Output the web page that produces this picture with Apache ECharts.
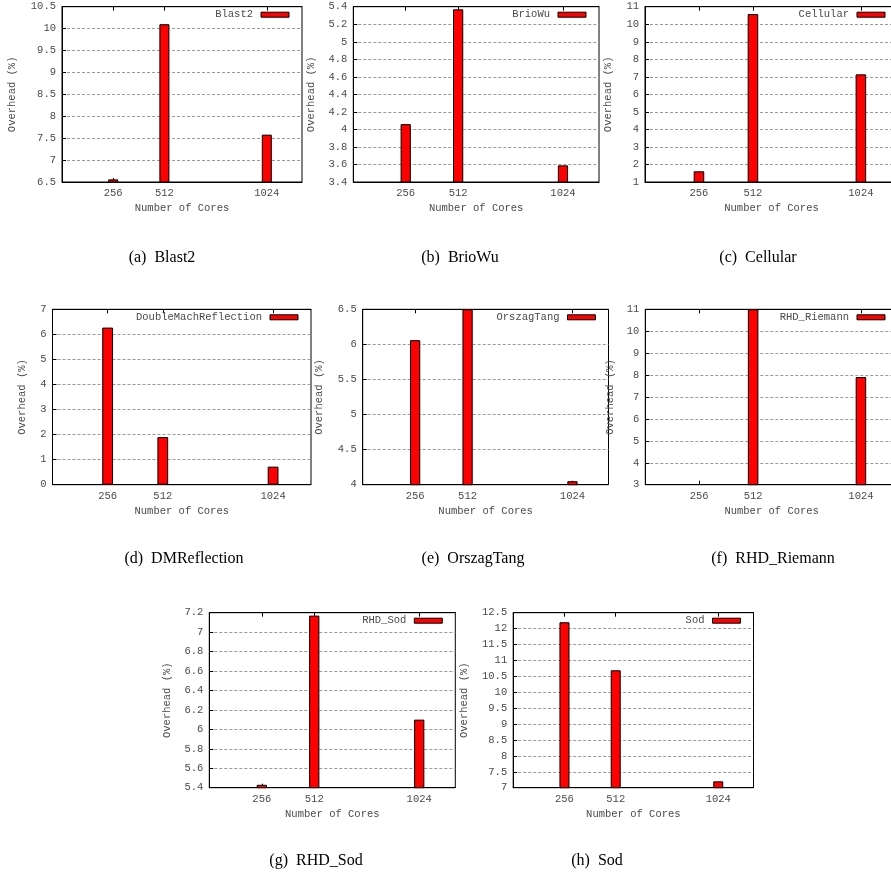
<!DOCTYPE html>
<html><head><meta charset="utf-8">
<script src="https://cdn.jsdelivr.net/npm/echarts@6/dist/echarts.min.js"></script>
<style>html,body{margin:0;padding:0;background:#fff}#c{width:891px;height:879px}</style>
</head><body><div id="c"></div><script>
// ---- data ----
const cores = [256, 512, 1024];
const xRange = [0, 1200];
const blast2 = [6.56, 10.10, 7.58];
const brioWu = [4.06, 5.37, 3.59];
const cellular = [1.61, 10.58, 7.14];
const dmReflection = [6.27, 1.90, 0.72];
const orszagTang = [6.06, 6.50, 4.05];
const rhdRiemann = [2.90, 11.00, 7.91];
const rhdSod = [5.43, 7.17, 6.10];
const sod = [12.20, 10.69, 7.20];
// y axis [min, max, interval]
const blast2Y = [6.5, 10.5, 0.5];
const brioWuY = [3.4, 5.4, 0.2];
const cellularY = [1, 11, 1];
const dmReflectionY = [0, 7, 1];
const orszagTangY = [4, 6.5, 0.5];
const rhdRiemannY = [3, 11, 1];
const rhdSodY = [5.4, 7.2, 0.2];
const sodY = [7, 12.5, 0.5];
const seriesNames = ['Blast2','BrioWu','Cellular','DoubleMachReflection','OrszagTang','RHD_Riemann','RHD_Sod','Sod'];
const captionLabels = ['(a)','(b)','(c)','(d)','(e)','(f)','(g)','(h)'];
const captionNames = ['Blast2','BrioWu','Cellular','DMReflection','OrszagTang','RHD_Riemann','RHD_Sod','Sod'];
const xTitle = 'Number of Cores';
const yTitle = 'Overhead (%)';

// ---- layout ----
const W = 891;
const panels = [
  {vals: blast2, y: blast2Y, box: [62, 6.7, 302, 182], gap: 44, cap: [162, 258]},
  {vals: brioWu, y: brioWuY, box: [353.3, 6.7, 599, 182], gap: 37, cap: [460, 258]},
  {vals: cellular, y: cellularY, box: [645, 6.7, 898, 182], gap: 31, cap: [758, 258]},
  {vals: dmReflection, y: dmReflectionY, box: [52.5, 309.3, 311, 484.7], gap: 24.5, cap: [184, 559]},
  {vals: orszagTang, y: orszagTangY, box: [362.7, 309.3, 608.5, 484.7], gap: 37.5, cap: [473, 559]},
  {vals: rhdRiemann, y: rhdRiemannY, box: [645.3, 309.3, 898, 484.7], gap: 30, cap: [773, 559]},
  {vals: rhdSod, y: rhdSodY, box: [209.3, 612.7, 455.3, 787.7], gap: 37, cap: [316, 861]},
  {vals: sod, y: sodY, box: [513.2, 612.7, 753.5, 787.7], gap: 43, cap: [597, 861]}
];

const mono = '"Liberation Mono", "DejaVu Sans Mono", monospace';
const txt = '#4a4a4a';
const grids = [], xAxes = [], yAxes = [], series = [], legends = [], graphics = [];

panels.forEach((p, i) => {
  const [l, t, r, b] = p.box;
  const w = r - l, h = b - t;
  grids.push({left: l, top: t, width: w, height: h, show: true, borderColor: '#000', borderWidth: 1,
    backgroundColor: 'transparent', containLabel: false, outerBoundsMode: 'none'});
  xAxes.push({type: 'value', gridIndex: i, min: xRange[0], max: xRange[1],
    axisLine: {show: true, lineStyle: {color: '#000', width: 1}},
    axisTick: {show: true, inside: true, length: 4, customValues: cores, lineStyle: {color: '#000'}},
    axisLabel: {customValues: cores, formatter: v => String(v), fontFamily: mono, fontSize: 10.5, color: txt, margin: 6},
    splitLine: {show: false},
    name: xTitle, nameLocation: 'middle', nameGap: 21,
    nameTextStyle: {fontFamily: mono, fontSize: 10.5, color: txt}});
  xAxes.push({type: 'value', gridIndex: i, position: 'top', min: xRange[0], max: xRange[1],
    axisLine: {show: true, lineStyle: {color: '#000', width: 1}},
    axisTick: {show: true, inside: true, length: 4, customValues: cores, lineStyle: {color: '#000'}},
    axisLabel: {show: false}, splitLine: {show: false}});
  yAxes.push({type: 'value', gridIndex: i, min: p.y[0], max: p.y[1], interval: p.y[2],
    axisLine: {show: true, lineStyle: {color: '#000', width: 1}},
    axisTick: {show: true, inside: true, length: 4, lineStyle: {color: '#000'}},
    axisLabel: {fontFamily: mono, fontSize: 10.5, color: txt, margin: 6},
    splitLine: {show: true, lineStyle: {color: '#9a9a9a', width: 1, type: [3, 2]}},
    name: yTitle, nameLocation: 'middle', nameGap: p.gap,
    nameTextStyle: {fontFamily: mono, fontSize: 10.5, color: txt}});
  const bw = 50 * w / (xRange[1] - xRange[0]);
  series.push({type: 'bar', name: seriesNames[i], xAxisIndex: i * 2, yAxisIndex: i,
    data: cores.map((c, j) => [c, p.vals[j]]), barWidth: bw, clip: true,
    itemStyle: {color: '#ff0000', borderColor: '#000', borderWidth: 1}});
  legends.push({data: [seriesNames[i]], right: W - (r - 12.5), top: t + 2, orient: 'horizontal',
    align: 'right', icon: 'rect', itemWidth: 28, itemHeight: 5, padding: 0, itemGap: 0, selectedMode: false,
    itemStyle: {color: '#ff0000', borderColor: '#000', borderWidth: 1},
    textStyle: {fontFamily: mono, fontSize: 10.5, color: txt, padding: [0, 3, 0, 0], lineHeight: 12}});
  graphics.push({type: 'text', x: p.cap[0], y: p.cap[1],
    style: {text: captionLabels[i] + '  ' + captionNames[i], font: '16px "Liberation Serif", "Times New Roman", serif',
      fill: '#000', align: 'center', verticalAlign: 'middle'}});
});

const chart = echarts.init(document.getElementById('c'), null, {renderer: 'canvas'});
chart.setOption({
  animation: false,
  backgroundColor: '#fff',
  grid: grids, xAxis: xAxes, yAxis: yAxes, series: series, legend: legends, graphic: graphics
});
</script></body></html>
